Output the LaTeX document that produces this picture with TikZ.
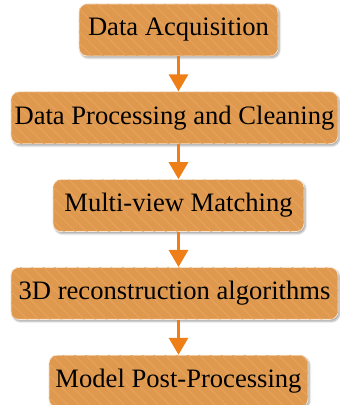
\documentclass[tikz,border=0pt]{standalone}
\usepackage{xcolor}
\usepackage{fontspec}
\setmainfont{Liberation Serif}
\usetikzlibrary{positioning,arrows.meta,shadows.blur,patterns.meta}

\definecolor{stagefill}{HTML}{DF994F}
\definecolor{stagestripe}{HTML}{E6A15A}
\definecolor{stageedge}{HTML}{F6E4D0}
\definecolor{flowarrow}{HTML}{EE7F18}

\begin{document}
\begin{tikzpicture}[node distance=35pt,
    stage/.style={shape=rectangle,rounded corners=8pt,minimum height=52pt,inner xsep=2pt,
        fill=stagefill,draw=stageedge,line width=0.8pt,
        blur shadow={shadow xshift=1.5pt,shadow yshift=-2pt,shadow opacity=35,shadow blur steps=6},
        postaction={pattern={Lines[angle=-45,distance=8pt,line width=1.2pt]},pattern color=stagestripe},
        font=\fontsize{26.6pt}{30pt}\selectfont,align=center},
    flow/.style={draw=flowarrow,line width=3pt,-{Triangle[width=19pt,length=17pt]}}]
    \useasboundingbox (0,0) rectangle (340pt,405pt);
    \node[stage,minimum width=199pt] (acq) at (178.5pt,375pt) {Data Acquisition};
    \node[stage,minimum width=327pt,below=of acq,xshift=-4pt] (proc) {Data Processing and Cleaning};
    \node[stage,minimum width=251pt,below=of proc,xshift=4pt] (match) {Multi-view Matching};
    \node[stage,minimum width=327pt,below=of match,xshift=-4pt] (recon) {3D reconstruction algorithms};
    \node[stage,minimum width=259pt,below=of recon,xshift=4pt] (post) {Model Post-Processing};
    % arrows between the stages
    \draw[flow] (acq.south) -- (acq.south |- proc.north);
    \draw[flow] (acq.south |- proc.south) -- (acq.south |- match.north);
    \draw[flow] (match.south) -- (match.south |- recon.north);
    \draw[flow] (match.south |- recon.south) -- (match.south |- post.north);
\end{tikzpicture}
\end{document}
